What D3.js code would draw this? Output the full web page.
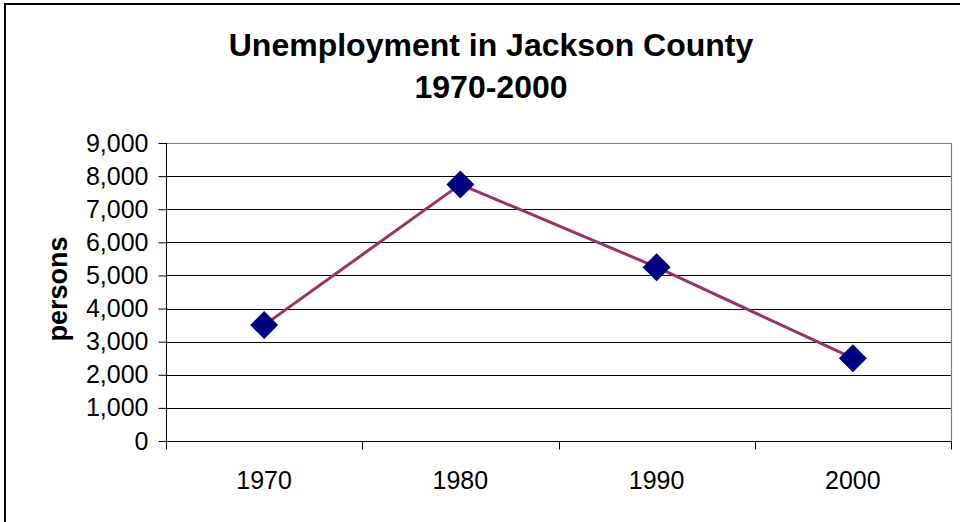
<!DOCTYPE html>
<html>
<head>
<meta charset="utf-8">
<script src="https://cdn.jsdelivr.net/npm/d3@7"></script>
<style>
  html, body { margin: 0; padding: 0; background: #fff; }
  svg { display: block; }
  text { font-family: "Liberation Sans", Arial, sans-serif; fill: #000; }
</style>
</head>
<body>
<svg id="chart" width="960" height="522"></svg>
<script>
// Unemployment figures, Jackson County
const years = ["1970", "1980", "1990", "2000"];
const persons = [3500, 7750, 5250, 2500];
const yTicks = [0, 1000, 2000, 3000, 4000, 5000, 6000, 7000, 8000, 9000];
const titleLines = ["Unemployment in Jackson County", "1970-2000"];
const yLabel = "persons";

const svg = d3.select("#chart");
const W = 960, H = 522;
const plot = { left: 166, right: 951, top: 143, bottom: 441 };

// chart frame
svg.append("rect")
  .attr("x", 5).attr("y", 4)
  .attr("width", W + 10).attr("height", H + 10)
  .attr("fill", "#fff").attr("stroke", "#000").attr("stroke-width", 2);

const x = d3.scaleBand().domain(years).range([plot.left, plot.right]);
const y = d3.scaleLinear().domain([0, 9000]).range([plot.bottom, plot.top]);

// horizontal gridlines
svg.append("g").selectAll("line")
  .data(yTicks.filter(d => d > 0 && d < 9000))
  .join("line")
  .attr("x1", plot.left).attr("x2", plot.right)
  .attr("y1", d => Math.round(y(d)) + 0.5).attr("y2", d => Math.round(y(d)) + 0.5)
  .attr("stroke", "#000").attr("stroke-width", 1);

// plot area border (top and right)
svg.append("path")
  .attr("d", `M${plot.left},${plot.top + 0.5}H${plot.right + 0.5}V${plot.bottom}`)
  .attr("fill", "none").attr("stroke", "#808080").attr("stroke-width", 1.2);

// y axis
const yAxis = svg.append("g")
  .attr("transform", `translate(${plot.left + 0.5},0)`)
  .call(d3.axisLeft(y).tickValues(yTicks).tickSize(8).tickPadding(10)
    .tickFormat(d3.format(",")));
yAxis.select(".domain").attr("d", `M0,${plot.top}V${plot.bottom + 8}`)
  .attr("stroke", "#000");
yAxis.selectAll(".tick line").attr("stroke", "#000");
yAxis.selectAll("text")
  .style("font-family", "'Liberation Sans', Arial, sans-serif")
  .style("font-size", "25px").attr("fill", "#000");
yAxis.attr("font-family", null).attr("font-size", null);

// x axis with ticks between categories
const xAxisG = svg.append("g").attr("transform", `translate(0,${plot.bottom + 0.5})`);
xAxisG.append("line")
  .attr("x1", plot.left).attr("x2", plot.right + 1)
  .attr("stroke", "#000").attr("stroke-width", 1);
const boundaries = years.map(d => x(d) + x.bandwidth()).concat([x(years[0])]);
xAxisG.selectAll("line.cat")
  .data(boundaries)
  .join("line").attr("class", "cat")
  .attr("x1", d => Math.round(d) + 0.5).attr("x2", d => Math.round(d) + 0.5)
  .attr("y1", 0).attr("y2", 8)
  .attr("stroke", "#000");
xAxisG.selectAll("text")
  .data(years)
  .join("text")
  .attr("x", d => x(d) + x.bandwidth() / 2)
  .attr("y", 47)
  .attr("text-anchor", "middle")
  .style("font-size", "25px")
  .text(d => d);

// data line
const cx = d => x(d) + x.bandwidth() / 2;
svg.append("path")
  .datum(years.map((yr, i) => [cx(yr), y(persons[i])]))
  .attr("d", d3.line())
  .attr("fill", "none").attr("stroke", "#993366").attr("stroke-width", 3);

// diamond markers
svg.append("g").selectAll("path")
  .data(years.map((yr, i) => ({ yr, v: persons[i] })))
  .join("path")
  .attr("transform", d => `translate(${cx(d.yr)},${y(d.v)})`)
  .attr("d", "M0,-14L14,0L0,14L-14,0Z")
  .attr("fill", "#000080");

// title
svg.append("text")
  .attr("x", 491).attr("text-anchor", "middle")
  .style("font-size", "32px").style("font-weight", "bold")
  .selectAll("tspan").data(titleLines).join("tspan")
  .attr("x", 491).attr("y", (d, i) => 56 + i * 42)
  .text(d => d);

// y axis label
svg.append("text")
  .attr("transform", `translate(67,${(plot.top + plot.bottom) / 2 - 3}) rotate(-90)`)
  .attr("text-anchor", "middle")
  .style("font-size", "27px").style("font-weight", "bold")
  .text(yLabel);
</script>
</body>
</html>
